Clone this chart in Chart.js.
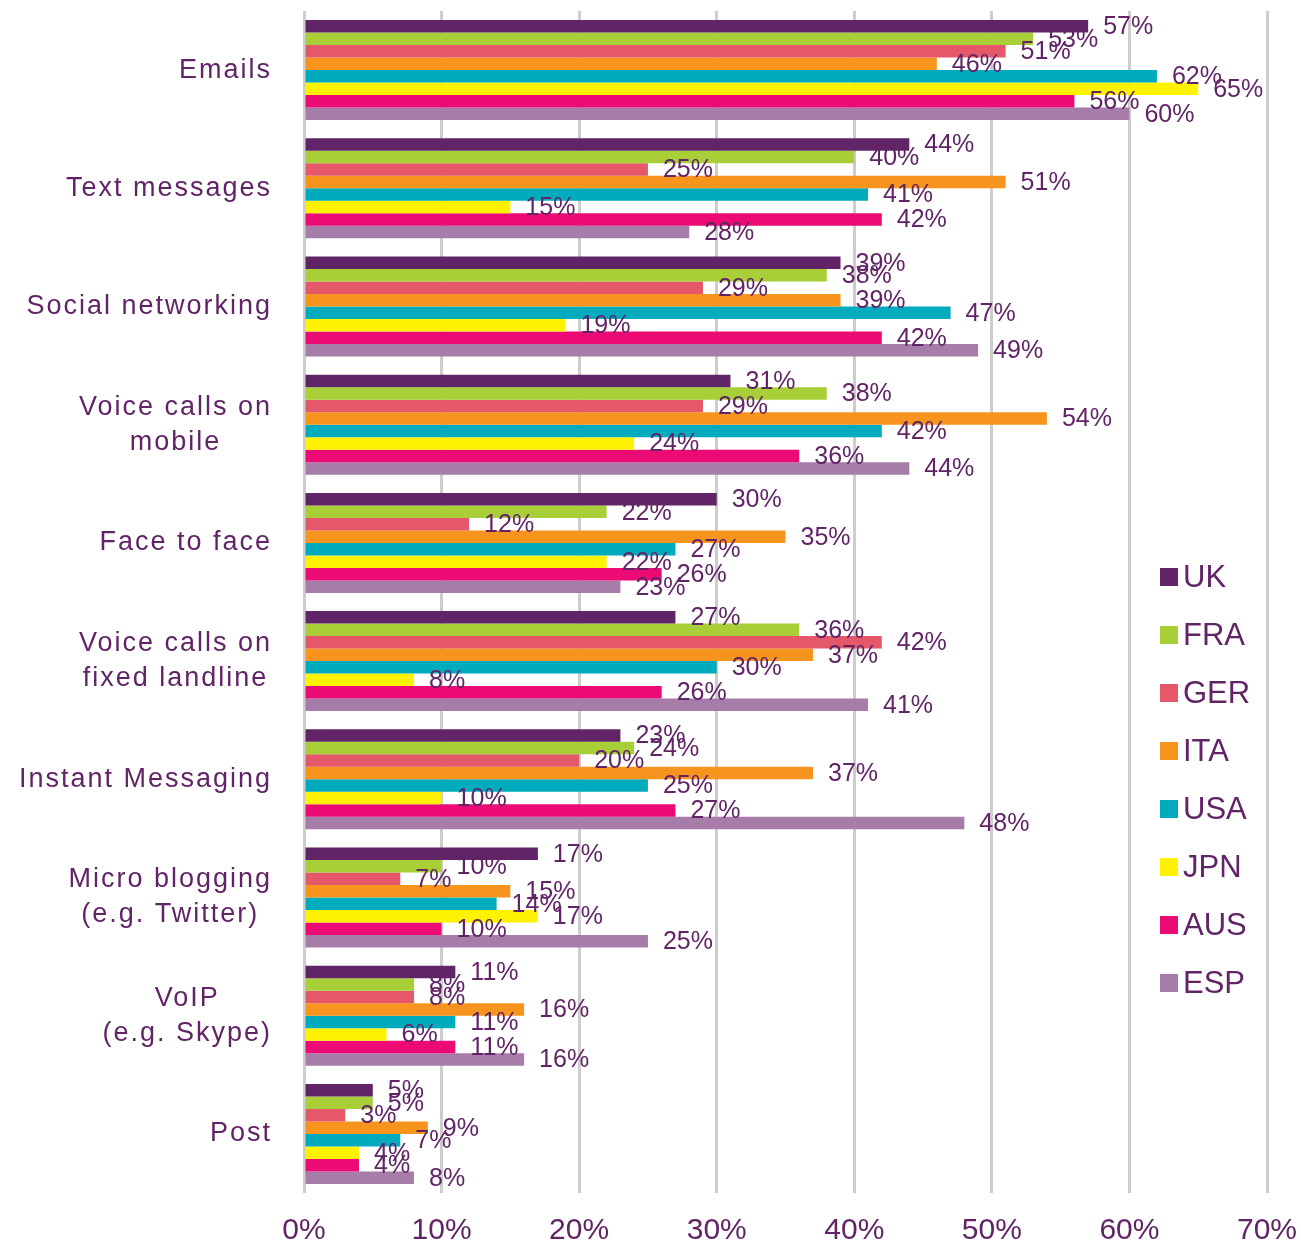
<!DOCTYPE html>
<html>
<head>
<meta charset="utf-8">
<script src="https://cdn.jsdelivr.net/npm/chart.js@4.4.1/dist/chart.umd.min.js"></script>
<style>
  html, body { margin: 0; padding: 0; background: #fff; }
  #wrap { width: 1301px; height: 1247px; }
</style>
</head>
<body>
<div id="wrap"><canvas id="grafico" width="1301" height="1247"></canvas></div>
<script>
// categorias (cada linea del rotulo va en su propia entrada)
const categorias = [
  ['Emails'],
  ['Text messages'],
  ['Social networking'],
  ['Voice calls on', 'mobile'],
  ['Face to face'],
  ['Voice calls on', 'fixed landline'],
  ['Instant Messaging'],
  ['Micro blogging', '(e.g. Twitter)'],
  ['VoIP', '(e.g. Skype)'],
  ['Post']
];

const paises = ['UK', 'FRA', 'GER', 'ITA', 'USA', 'JPN', 'AUS', 'ESP'];
const colores = ['#612466', '#a8cf38', '#e5586a', '#f7941e', '#00abbd', '#fff200', '#ec0a74', '#a67ca9'];

const uk  = [57, 44, 39, 31, 30, 27, 23, 17, 11, 5];
const fra = [53, 40, 38, 38, 22, 36, 24, 10, 8, 5];
const ger = [51, 25, 29, 29, 12, 42, 20, 7, 8, 3];
const ita = [46, 51, 39, 54, 35, 37, 37, 15, 16, 9];
const usa = [62, 41, 47, 42, 27, 30, 25, 14, 11, 7];
const jpn = [65, 15, 19, 24, 22, 8, 10, 17, 6, 4];
const aus = [56, 42, 42, 36, 26, 26, 27, 10, 11, 4];
const esp = [60, 28, 49, 44, 23, 41, 48, 25, 16, 8];

const ticksX = [0, 10, 20, 30, 40, 50, 60, 70];

const series = [uk, fra, ger, ita, usa, jpn, aus, esp];
const morado = '#612466';
const fuente = '"Liberation Sans", Arial, sans-serif';

// etiquetas de valor al final de cada barra
const etiquetasBarras = {
  id: 'etiquetasBarras',
  afterDatasetsDraw(chart) {
    const ctx = chart.ctx;
    ctx.save();
    ctx.font = '25px ' + fuente;
    ctx.fillStyle = morado;
    ctx.textAlign = 'left';
    ctx.textBaseline = 'middle';
    chart.data.datasets.forEach((ds, i) => {
      chart.getDatasetMeta(i).data.forEach((barra, j) => {
        ctx.fillText(ds.data[j] + '%', barra.x + 15, barra.y + 1);
      });
    });
    ctx.restore();
  }
};

// rotulos de categoria: bloque alineado a la derecha, lineas centradas
const rotulosCategorias = {
  id: 'rotulosCategorias',
  afterDraw(chart) {
    const ctx = chart.ctx;
    const escalaY = chart.scales.y;
    const bordeDer = chart.chartArea.left - 32;
    const altoLinea = 35;
    ctx.save();
    ctx.font = '27px ' + fuente;
    ctx.letterSpacing = '2px';
    ctx.fillStyle = morado;
    ctx.textAlign = 'center';
    ctx.textBaseline = 'middle';
    categorias.forEach((lineas, i) => {
      const yc = escalaY.getPixelForValue(i);
      const ancho = Math.max(...lineas.map(l => ctx.measureText(l).width));
      const xc = bordeDer - ancho / 2;
      const y0 = yc - (lineas.length - 1) * altoLinea / 2;
      lineas.forEach((l, k) => ctx.fillText(l, xc, y0 + k * altoLinea));
    });
    ctx.restore();
  }
};

// leyenda dentro del area del grafico
const leyenda = {
  id: 'leyenda',
  afterDraw(chart) {
    const ctx = chart.ctx;
    ctx.save();
    ctx.font = '31px ' + fuente;
    ctx.textAlign = 'left';
    ctx.textBaseline = 'middle';
    chart.data.datasets.forEach((ds, i) => {
      const y = 577 + i * 58;
      ctx.fillStyle = ds.backgroundColor;
      ctx.fillRect(1160, y - 9, 18, 18);
      ctx.fillStyle = morado;
      ctx.fillText(ds.label, 1183, y + 1);
    });
    ctx.restore();
  }
};

const ctx = document.getElementById('grafico').getContext('2d');
new Chart(ctx, {
  type: 'bar',
  data: {
    labels: categorias,
    datasets: paises.map((p, i) => ({
      label: p,
      data: series[i],
      backgroundColor: colores[i],
      borderWidth: 0,
      categoryPercentage: 0.846,
      barPercentage: 1.0
    }))
  },
  options: {
    indexAxis: 'y',
    responsive: false,
    animation: false,
    layout: { padding: { left: 304, right: 34, top: 11, bottom: 0 } },
    plugins: {
      legend: { display: false },
      tooltip: { enabled: false }
    },
    scales: {
      x: {
        min: 0,
        max: 70,
        afterBuildTicks: s => { s.ticks = ticksX.map(v => ({ value: v })); },
        afterFit: s => {
          s.height = 54;
          s.paddingLeft = 0;
          s.paddingRight = 0;
        },
        grid: { color: '#cdcdcd', lineWidth: 3, drawTicks: false },
        border: { display: false },
        ticks: {
          padding: 20,
          color: morado,
          font: { family: fuente, size: 30 },
          callback: v => v + '%'
        }
      },
      y: {
        display: false
      }
    }
  },
  plugins: [etiquetasBarras, rotulosCategorias, leyenda]
});
</script>
</body>
</html>
